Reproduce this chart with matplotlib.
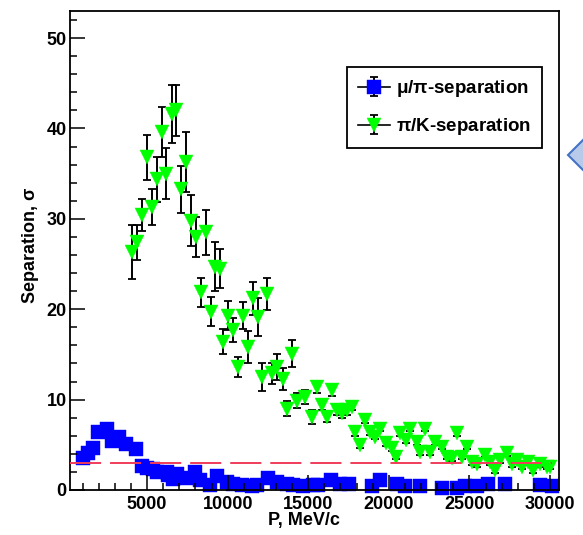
import matplotlib.pyplot as plt
from matplotlib.ticker import MultipleLocator
from matplotlib.lines import Line2D
from matplotlib.legend_handler import HandlerTuple
from matplotlib.patches import Polygon

plt.rcParams['font.family'] = 'Liberation Sans'
plt.rcParams['font.weight'] = 'bold'
plt.rcParams['mathtext.fontset'] = 'custom'
plt.rcParams['mathtext.rm'] = 'Liberation Sans'
plt.rcParams['mathtext.it'] = 'Liberation Sans:italic'
plt.rcParams['mathtext.bf'] = 'Liberation Sans:bold'

# mu/pi separation vs momentum (MeV/c)
mu_p = [1010, 1360, 1630, 1940, 2500, 2850, 3260, 3700, 4320, 4670, 5020,
        5390, 5600, 6220, 6320, 6630, 6840, 7460, 7980, 8290, 8910, 9320,
        9940, 10350, 10870, 11500, 11800, 12520, 13050, 13670, 14080, 14700,
        15320, 15600, 16400, 16950, 17500, 18940, 19450, 20490, 21000, 21950,
        23300, 24210, 24700, 25450, 26170, 27210, 29380, 30150]
mu_sep = [3.5, 4.05, 4.6, 6.45, 6.8, 5.45, 5.9, 5.05, 4.5, 2.7, 2.4,
          2.3, 2.0, 1.95, 1.65, 1.2, 1.8, 1.3, 2.0, 1.1, 0.55, 1.5,
          0.9, 0.7, 0.55, 0.4, 0.55, 1.3, 0.9, 0.7, 0.55, 0.4,
          0.55, 0.55, 1.1, 0.7, 0.7, 0.4, 1.1, 0.7, 0.4, 0.4,
          0.2, 0.2, 0.4, 0.4, 0.7, 0.7, 0.55, 0.4]
mu_err = [0.3] * len(mu_p)

# pi/K separation vs momentum (MeV/c)
pk_p = [4050, 4360, 4670, 4980, 5290, 5600, 5910, 6180, 6530, 6800, 7090,
        7420, 7730, 8020, 8330, 8640, 8950, 9220, 9530, 9730, 10040, 10350,
        10660, 10940, 11280, 11560, 11900, 12150, 12460, 12770, 13080, 13420,
        13670, 14010, 14320, 14800, 15220, 15530, 15840, 16150, 16460, 16770,
        17080, 17390, 17700, 17900, 18210, 18520, 18830, 19140, 19450, 19830,
        20180, 20450, 20700, 21070, 21320, 21730, 21940, 22250, 22560, 22870,
        23280, 23600, 23910, 24220, 24530, 24840, 25150, 25460, 25970, 26280,
        26590, 26900, 27320, 27630, 27940, 28250, 28660, 28970, 29380, 29800,
        30000]
pk_sep = [26.3, 27.4, 30.4, 36.8, 31.3, 34.4, 39.6, 35.0, 41.6, 42.0, 33.3,
          36.3, 29.8, 28.0, 21.9, 28.5, 19.7, 24.7, 24.5, 16.4, 19.3, 17.7,
          13.6, 19.3, 15.8, 21.2, 19.1, 12.5, 21.7, 12.9, 13.6, 12.3,
          9.0, 15.1, 9.9, 10.3, 8.1, 11.4, 9.4, 8.1, 11.05, 8.8,
          8.5, 8.8, 9.2, 6.4, 5.0, 7.7, 6.4, 5.9, 6.8, 5.2,
          4.6, 3.7, 6.3, 5.5, 6.8, 5.3, 4.2, 6.8, 4.2, 5.3,
          4.8, 3.7, 3.5, 6.3, 3.7, 4.8, 3.1, 2.9, 3.9, 3.1,
          2.2, 3.3, 4.05, 2.9, 3.3, 2.6, 3.1, 2.2, 2.9, 2.6,
          2.6]
pk_err = [3.0, 1.9, 1.75, 2.5, 2.0, 2.5, 2.8, 2.8, 3.2, 2.8, 2.6,
          3.3, 2.8, 2.2, 1.6, 2.5, 1.6, 2.7, 2.2, 1.4, 1.6, 1.3,
          1.1, 1.5, 1.8, 1.8, 2.1, 1.5, 1.8, 1.2, 1.4, 1.2,
          0.8, 1.5, 0.8, 0.8, 0.8, 0.7, 0.6, 0.6, 0.6, 0.5,
          0.5, 0.5, 0.4, 0.4, 0.3, 0.3, 0.3, 0.3, 0.3, 0.3,
          0.3, 0.3, 0.3, 0.3, 0.3, 0.3, 0.3, 0.3, 0.3, 0.3,
          0.3, 0.3, 0.3, 0.3, 0.3, 0.3, 0.3, 0.3, 0.3, 0.3,
          0.3, 0.3, 0.3, 0.3, 0.3, 0.3, 0.3, 0.3, 0.3, 0.3,
          0.3]

threshold = 3.0
threshold_p = (220, 30100)

fig = plt.figure(figsize=(5.83, 5.35), dpi=100)
ax = fig.add_axes([70 / 583, 45 / 535, 489 / 583, 479 / 535])

err_style = dict(ecolor='black', elinewidth=1.4, capsize=2.6, capthick=1.3,
                 linestyle='none', clip_on=False)
h_mu = ax.errorbar(mu_p, mu_sep, yerr=mu_err, marker='s', ms=10,
                   color='#0000ff', mec='#0000ff', mew=0.3, **err_style)
h_pk = ax.errorbar(pk_p, pk_sep, yerr=pk_err, marker='v', ms=10.5,
                   color='#00ff00', mec='#00ff00', mew=0.3, **err_style)
for cont in (h_mu, h_pk):
    for cap in cont[1]:
        cap.set_markeredgewidth(1.3)
        cap.set_markeredgecolor('black')

ax.hlines(threshold, *threshold_p, colors='#f03c5a', linewidth=1.4,
          linestyles=(0, (16, 4.6)), zorder=3)

ax.set_xlim(220, 30560)
ax.set_ylim(0, 53)
ax.xaxis.set_major_locator(MultipleLocator(5000))
ax.xaxis.set_minor_locator(MultipleLocator(1000))
ax.yaxis.set_major_locator(MultipleLocator(10))
ax.yaxis.set_minor_locator(MultipleLocator(2))
ax.tick_params(which='both', direction='in', width=1.1, labelsize=13,
               top=False, right=False)
ax.tick_params(which='major', length=10.5)
ax.tick_params(which='minor', length=5.2)
ax.tick_params(axis='x', pad=4)
ax.tick_params(axis='y', pad=2.5)
for s in ax.spines.values():
    s.set_linewidth(1.3)
ax.set_axisbelow(False)

ax.set_xlabel('P, MeV/c', fontsize=13, fontweight='bold', va='center')
ax.set_ylabel(r'Separation, $\mathrm{\sigma}$', fontsize=13, fontweight='bold')
ax.xaxis.set_label_coords(0.479, -0.063)
ax.yaxis.set_label_coords(-0.06, 0.511)

bar = Line2D([], [], color='black', linewidth=1.2)
leg = ax.legend([(bar, h_mu), (bar, h_pk)],
                [r'$\mathrm{\mu/\pi}$-separation', r'$\mathrm{\pi}$/K-separation'],
                handler_map={tuple: HandlerTuple(ndivide=1)},
                loc='upper left', bbox_to_anchor=(0.566, 0.883),
                prop={'size': 13.5, 'weight': 'bold'}, fancybox=False,
                framealpha=1, edgecolor='black', borderpad=0.6,
                labelspacing=0.9, handlelength=1.7, handletextpad=0.3,
                borderaxespad=0)
leg.get_frame().set_linewidth(1.3)

# side arrow marker at the right edge of the slide
px = [(568, 155), (598, 125), (628, 155), (598, 185)]
arrow = Polygon([(x / 583, (535 - y) / 535) for x, y in px], closed=True,
                transform=fig.transFigure, facecolor='#b8cae9',
                edgecolor='#4472c4', linewidth=1.5, clip_on=False)
fig.patches.append(arrow)

fig.savefig('out.png', dpi=100)
